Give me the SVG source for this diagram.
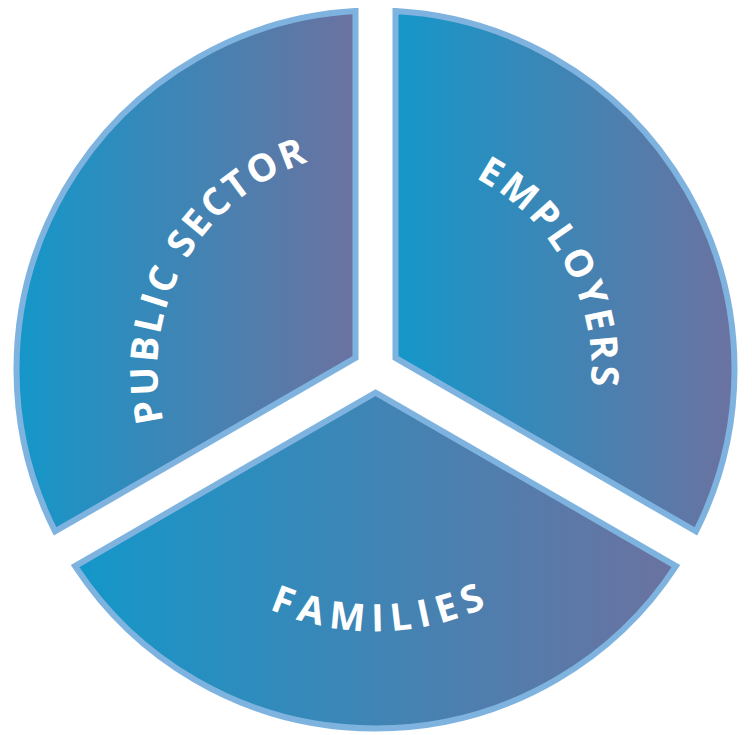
<svg xmlns="http://www.w3.org/2000/svg" width="752" height="735" viewBox="0 0 752 735">
  <defs>
    <linearGradient id="sectorFill" x1="0" y1="0" x2="1" y2="0">
      <stop offset="0" stop-color="#1497c9"/>
      <stop offset="1" stop-color="#6b72a0"/>
    </linearGradient>
    <!-- baselines for the curved labels, all centred on the pie centre (375.5, 369.5) -->
    <path id="arcPublic" d="M236.8,537.7 A218,218 0 0 1 448.3,164.0"/>
    <path id="arcEmployers" d="M306.6,164.8 A216,216 0 0 1 510.3,538.3"/>
    <path id="arcFamilies" d="M151.9,506.0 A262,262 0 0 0 605.5,494.9"/>
  </defs>
  <style>
    .sector { fill: url(#sectorFill); stroke: #7fb3df; stroke-width: 6; stroke-linejoin: miter; }
    .label { fill: #ffffff; font-family: "Open Sans", "DejaVu Sans", sans-serif; font-weight: 700; font-size: 38px; }
  </style>

  <g id="public-sector">
    <path class="sector" d="M355.5,357.95 L55.08,531.4 A359,359 0 0 1 355.5,11.06 Z"/>
    <text class="label" letter-spacing="3"><textPath href="#arcPublic" startOffset="50%" text-anchor="middle">PUBLIC SECTOR</textPath></text>
  </g>

  <g id="employers">
    <path class="sector" d="M395.5,357.95 L395.5,11.06 A359,359 0 0 1 695.92,531.4 Z"/>
    <text class="label" letter-spacing="3.5"><textPath href="#arcEmployers" startOffset="50%" text-anchor="middle">EMPLOYERS</textPath></text>
  </g>

  <g id="families">
    <path class="sector" d="M375.5,392.59 L675.92,566.04 A359,359 0 0 1 75.08,566.04 Z"/>
    <text class="label" letter-spacing="7.5"><textPath href="#arcFamilies" startOffset="50%" text-anchor="middle">FAMILIES</textPath></text>
  </g>
</svg>
